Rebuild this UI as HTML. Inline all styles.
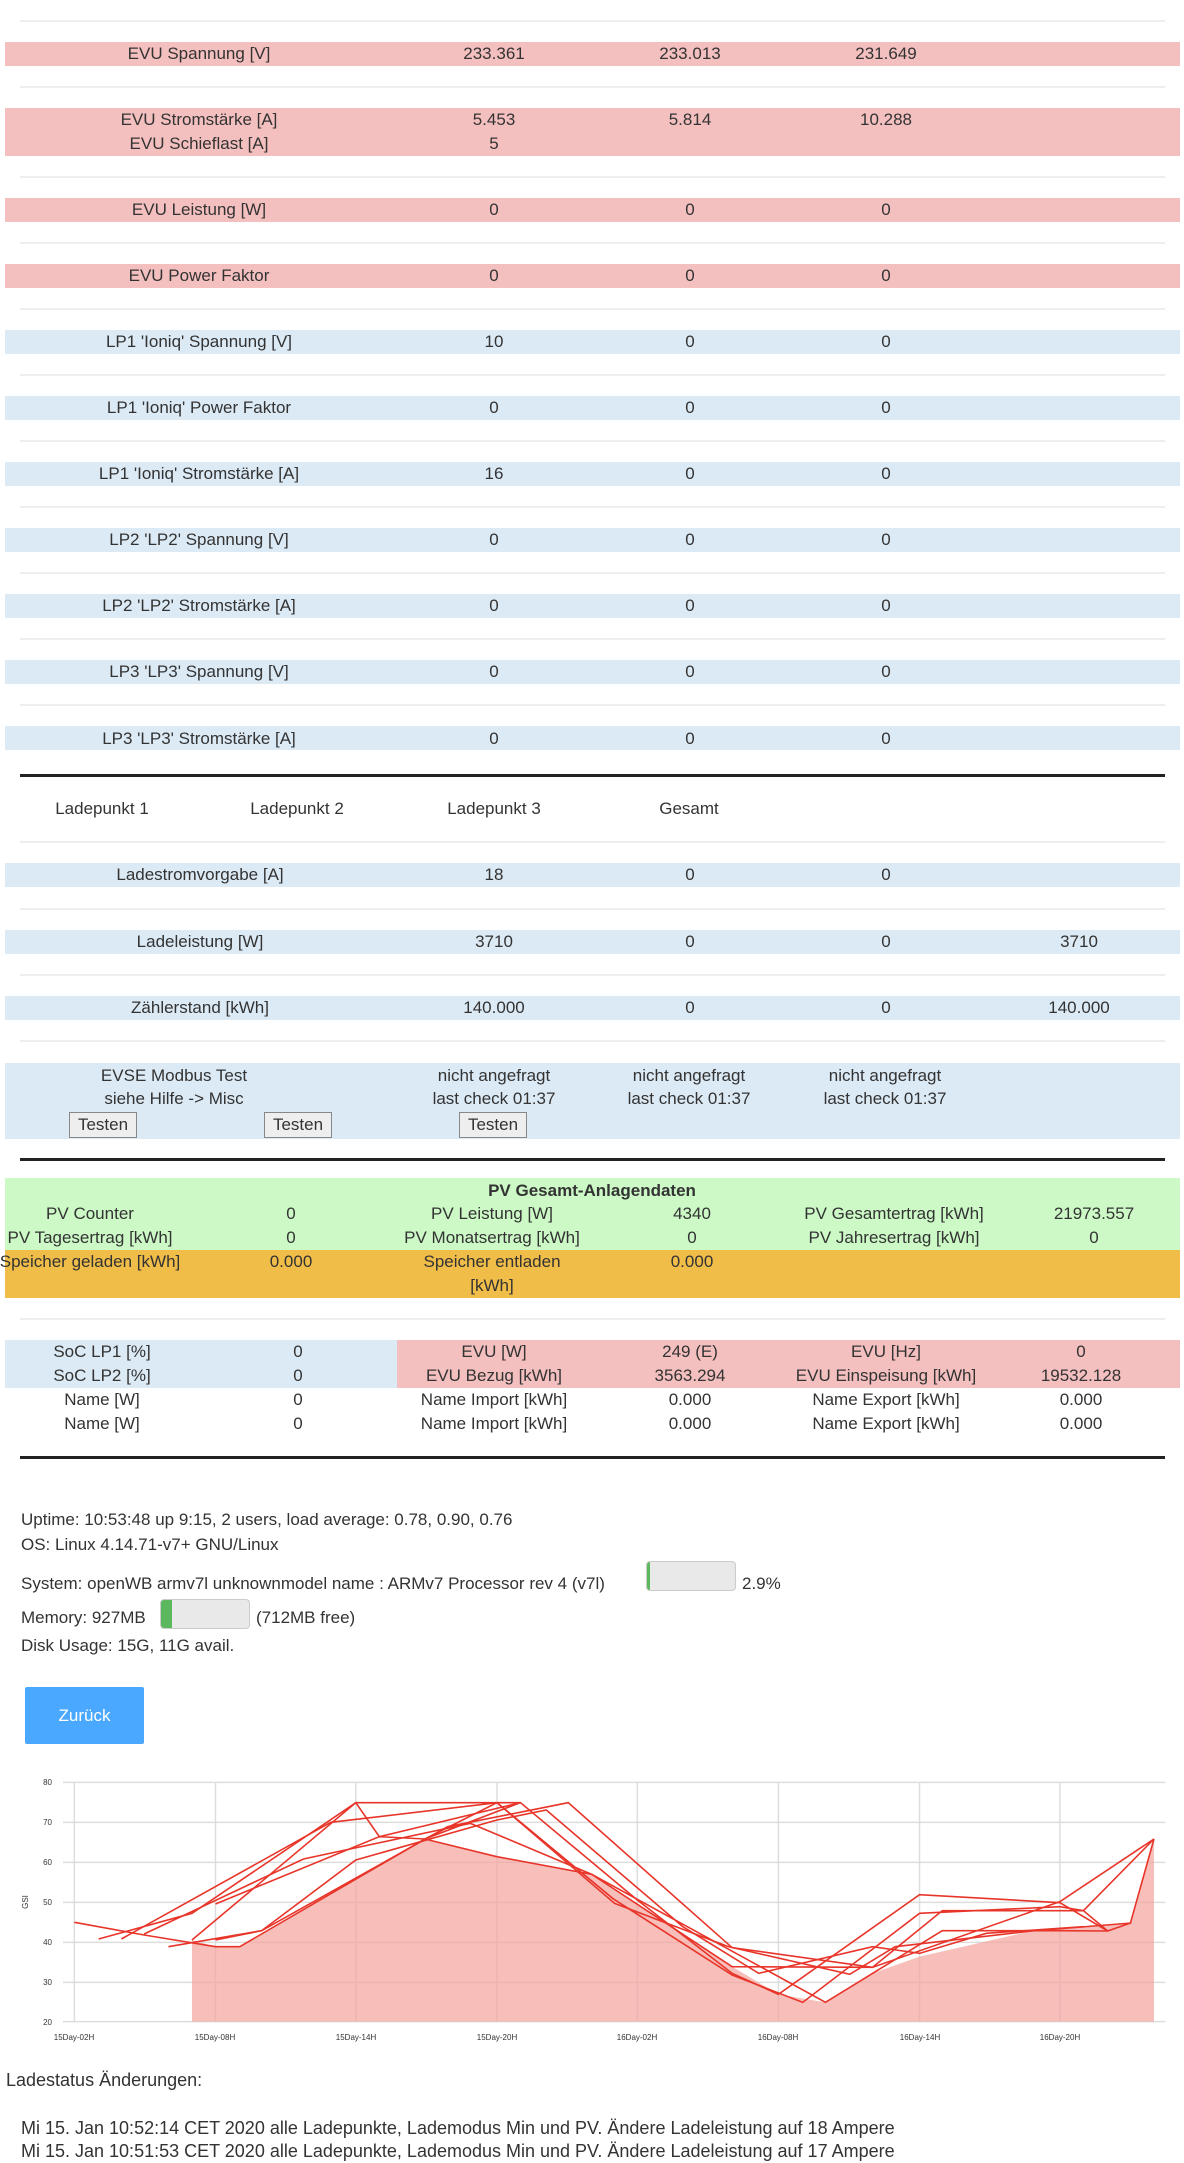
<!DOCTYPE html>
<html><head><meta charset="utf-8"><style>
body{margin:0;width:1184px;height:2160px;position:relative;overflow:hidden;background:#fff;font-family:"Liberation Sans",sans-serif;font-size:17px;color:#333}
.b{position:absolute;left:5px;width:1175px}
.pk{background:#f4c0bf}.bl{background:#dceaf5}.gr{background:#ccf9c6}.or{background:#f0bd48}
.ln{position:absolute;left:20px;width:1145px;height:2px;background:#eee}
.tk{position:absolute;left:20px;width:1145px;height:3px;background:#222}
.t{position:absolute;transform:translate(-50%,-50%);white-space:nowrap;line-height:24px}
.l{position:absolute;white-space:nowrap;line-height:24px;transform:translateY(-50%)}
.btn{position:absolute;border:1px solid #888;background:#eee;font-size:17px;text-align:center;line-height:24px;box-sizing:border-box}
</style></head><body>
<div class="ln" style="top:20px"></div>
<div class="b pk" style="top:42px;height:24px"></div>
<div class="t" style="left:199px;top:54px">EVU Spannung [V]</div><div class="t" style="left:494px;top:54px">233.361</div><div class="t" style="left:690px;top:54px">233.013</div><div class="t" style="left:886px;top:54px">231.649</div>
<div class="ln" style="top:86px"></div>
<div class="b pk" style="top:108px;height:48px"></div>
<div class="t" style="left:199px;top:120px">EVU Stromstärke [A]</div><div class="t" style="left:494px;top:120px">5.453</div><div class="t" style="left:690px;top:120px">5.814</div><div class="t" style="left:886px;top:120px">10.288</div>
<div class="t" style="left:199px;top:144px">EVU Schieflast [A]</div><div class="t" style="left:494px;top:144px">5</div>
<div class="ln" style="top:176px"></div>
<div class="b pk" style="top:198px;height:24px"></div>
<div class="t" style="left:199px;top:210px">EVU Leistung [W]</div><div class="t" style="left:494px;top:210px">0</div><div class="t" style="left:690px;top:210px">0</div><div class="t" style="left:886px;top:210px">0</div>
<div class="ln" style="top:242px"></div>
<div class="b pk" style="top:264px;height:24px"></div>
<div class="t" style="left:199px;top:276px">EVU Power Faktor</div><div class="t" style="left:494px;top:276px">0</div><div class="t" style="left:690px;top:276px">0</div><div class="t" style="left:886px;top:276px">0</div>
<div class="ln" style="top:308px"></div>
<div class="b bl" style="top:330px;height:24px"></div>
<div class="t" style="left:199px;top:342px">LP1 'Ioniq' Spannung [V]</div><div class="t" style="left:494px;top:342px">10</div><div class="t" style="left:690px;top:342px">0</div><div class="t" style="left:886px;top:342px">0</div>
<div class="ln" style="top:374px"></div>
<div class="b bl" style="top:396px;height:24px"></div>
<div class="t" style="left:199px;top:408px">LP1 'Ioniq' Power Faktor</div><div class="t" style="left:494px;top:408px">0</div><div class="t" style="left:690px;top:408px">0</div><div class="t" style="left:886px;top:408px">0</div>
<div class="ln" style="top:440px"></div>
<div class="b bl" style="top:462px;height:24px"></div>
<div class="t" style="left:199px;top:474px">LP1 'Ioniq' Stromstärke [A]</div><div class="t" style="left:494px;top:474px">16</div><div class="t" style="left:690px;top:474px">0</div><div class="t" style="left:886px;top:474px">0</div>
<div class="ln" style="top:506px"></div>
<div class="b bl" style="top:528px;height:24px"></div>
<div class="t" style="left:199px;top:540px">LP2 'LP2' Spannung [V]</div><div class="t" style="left:494px;top:540px">0</div><div class="t" style="left:690px;top:540px">0</div><div class="t" style="left:886px;top:540px">0</div>
<div class="ln" style="top:572px"></div>
<div class="b bl" style="top:594px;height:24px"></div>
<div class="t" style="left:199px;top:606px">LP2 'LP2' Stromstärke [A]</div><div class="t" style="left:494px;top:606px">0</div><div class="t" style="left:690px;top:606px">0</div><div class="t" style="left:886px;top:606px">0</div>
<div class="ln" style="top:638px"></div>
<div class="b bl" style="top:660px;height:24px"></div>
<div class="t" style="left:199px;top:672px">LP3 'LP3' Spannung [V]</div><div class="t" style="left:494px;top:672px">0</div><div class="t" style="left:690px;top:672px">0</div><div class="t" style="left:886px;top:672px">0</div>
<div class="ln" style="top:704px"></div>
<div class="b bl" style="top:726px;height:24px"></div>
<div class="t" style="left:199px;top:739px">LP3 'LP3' Stromstärke [A]</div><div class="t" style="left:494px;top:739px">0</div><div class="t" style="left:690px;top:739px">0</div><div class="t" style="left:886px;top:739px">0</div>
<div class="tk" style="top:774px"></div>
<div class="t" style="left:102px;top:809px">Ladepunkt 1</div><div class="t" style="left:297px;top:809px">Ladepunkt 2</div><div class="t" style="left:494px;top:809px">Ladepunkt 3</div><div class="t" style="left:689px;top:809px">Gesamt</div>
<div class="ln" style="top:841px"></div>
<div class="b bl" style="top:863px;height:24px"></div>
<div class="t" style="left:200px;top:875px">Ladestromvorgabe [A]</div><div class="t" style="left:494px;top:875px">18</div><div class="t" style="left:690px;top:875px">0</div><div class="t" style="left:886px;top:875px">0</div>
<div class="ln" style="top:908px"></div>
<div class="b bl" style="top:930px;height:24px"></div>
<div class="t" style="left:200px;top:942px">Ladeleistung [W]</div><div class="t" style="left:494px;top:942px">3710</div><div class="t" style="left:690px;top:942px">0</div><div class="t" style="left:886px;top:942px">0</div><div class="t" style="left:1079px;top:942px">3710</div>
<div class="ln" style="top:974px"></div>
<div class="b bl" style="top:996px;height:24px"></div>
<div class="t" style="left:200px;top:1008px">Zählerstand [kWh]</div><div class="t" style="left:494px;top:1008px">140.000</div><div class="t" style="left:690px;top:1008px">0</div><div class="t" style="left:886px;top:1008px">0</div><div class="t" style="left:1079px;top:1008px">140.000</div>
<div class="ln" style="top:1040px"></div>
<div class="b bl" style="top:1063px;height:76px"></div>
<div class="t" style="left:174px;top:1076px">EVSE Modbus Test</div><div class="t" style="left:174px;top:1099px">siehe Hilfe -&gt; Misc</div>
<div class="t" style="left:494px;top:1076px">nicht angefragt</div><div class="t" style="left:494px;top:1099px">last check 01:37</div>
<div class="t" style="left:689px;top:1076px">nicht angefragt</div><div class="t" style="left:689px;top:1099px">last check 01:37</div>
<div class="t" style="left:885px;top:1076px">nicht angefragt</div><div class="t" style="left:885px;top:1099px">last check 01:37</div>
<div class="btn" style="left:69px;top:1112px;width:68px;height:26px">Testen</div>
<div class="btn" style="left:264px;top:1112px;width:68px;height:26px">Testen</div>
<div class="btn" style="left:459px;top:1112px;width:68px;height:26px">Testen</div>
<div class="tk" style="top:1158px"></div>
<div class="b gr" style="top:1178px;height:72px"></div>
<div class="b or" style="top:1250px;height:48px"></div>
<div class="t" style="left:592px;top:1191px;font-weight:bold">PV Gesamt-Anlagendaten</div>
<div class="t" style="left:90px;top:1214px">PV Counter</div><div class="t" style="left:291px;top:1214px">0</div><div class="t" style="left:492px;top:1214px">PV Leistung [W]</div><div class="t" style="left:692px;top:1214px">4340</div><div class="t" style="left:894px;top:1214px">PV Gesamtertrag [kWh]</div><div class="t" style="left:1094px;top:1214px">21973.557</div>
<div class="t" style="left:90px;top:1238px">PV Tagesertrag [kWh]</div><div class="t" style="left:291px;top:1238px">0</div><div class="t" style="left:492px;top:1238px">PV Monatsertrag [kWh]</div><div class="t" style="left:692px;top:1238px">0</div><div class="t" style="left:894px;top:1238px">PV Jahresertrag [kWh]</div><div class="t" style="left:1094px;top:1238px">0</div>
<div class="t" style="left:90px;top:1262px">Speicher geladen [kWh]</div><div class="t" style="left:291px;top:1262px">0.000</div><div class="t" style="left:492px;top:1262px">Speicher entladen</div><div class="t" style="left:492px;top:1286px">[kWh]</div><div class="t" style="left:692px;top:1262px">0.000</div>
<div class="ln" style="top:1318px"></div>
<div style="position:absolute;left:5px;top:1340px;width:392px;height:48px;background:#dceaf5"></div>
<div style="position:absolute;left:397px;top:1340px;width:783px;height:48px;background:#f4c0bf"></div>
<div class="t" style="left:102px;top:1352px">SoC LP1 [%]</div><div class="t" style="left:298px;top:1352px">0</div><div class="t" style="left:494px;top:1352px">EVU [W]</div><div class="t" style="left:690px;top:1352px">249 (E)</div><div class="t" style="left:886px;top:1352px">EVU [Hz]</div><div class="t" style="left:1081px;top:1352px">0</div>
<div class="t" style="left:102px;top:1376px">SoC LP2 [%]</div><div class="t" style="left:298px;top:1376px">0</div><div class="t" style="left:494px;top:1376px">EVU Bezug [kWh]</div><div class="t" style="left:690px;top:1376px">3563.294</div><div class="t" style="left:886px;top:1376px">EVU Einspeisung [kWh]</div><div class="t" style="left:1081px;top:1376px">19532.128</div>
<div class="t" style="left:102px;top:1400px">Name [W]</div><div class="t" style="left:298px;top:1400px">0</div><div class="t" style="left:494px;top:1400px">Name Import [kWh]</div><div class="t" style="left:690px;top:1400px">0.000</div><div class="t" style="left:886px;top:1400px">Name Export [kWh]</div><div class="t" style="left:1081px;top:1400px">0.000</div>
<div class="t" style="left:102px;top:1424px">Name [W]</div><div class="t" style="left:298px;top:1424px">0</div><div class="t" style="left:494px;top:1424px">Name Import [kWh]</div><div class="t" style="left:690px;top:1424px">0.000</div><div class="t" style="left:886px;top:1424px">Name Export [kWh]</div><div class="t" style="left:1081px;top:1424px">0.000</div>
<div class="tk" style="top:1456px"></div>
<div class="l" style="left:21px;top:1520px">Uptime: 10:53:48 up 9:15, 2 users, load average: 0.78, 0.90, 0.76</div>
<div class="l" style="left:21px;top:1545px">OS: Linux 4.14.71-v7+ GNU/Linux</div>
<div class="l" style="left:21px;top:1584px">System: openWB armv7l unknownmodel name : ARMv7 Processor rev 4 (v7l)</div>
<div style="position:absolute;left:646px;top:1561px;width:90px;height:30px;background:#e9e9e9;border:1px solid #ccc;border-radius:4px;box-sizing:border-box;overflow:hidden"><div style="width:3px;height:100%;background:#5cb85c"></div></div>
<div class="l" style="left:742px;top:1584px">2.9%</div>
<div class="l" style="left:21px;top:1618px">Memory: 927MB</div>
<div style="position:absolute;left:160px;top:1599px;width:90px;height:30px;background:#e9e9e9;border:1px solid #ccc;border-radius:4px;box-sizing:border-box;overflow:hidden"><div style="width:11px;height:100%;background:#5cb85c"></div></div>
<div class="l" style="left:256px;top:1618px">(712MB free)</div>
<div class="l" style="left:21px;top:1646px">Disk Usage: 15G, 11G avail.</div>
<div style="position:absolute;left:25px;top:1687px;width:119px;height:57px;background:#4aa8ff;color:#fff;text-align:center;line-height:57px;border-radius:2px">Zurück</div>
<svg style="position:absolute;left:0;top:0" width="1184" height="2160">
<g transform="translate(0,1760) scale(0.7587,0.33333)" fill="none">
<g stroke="#ddd" stroke-width="1.5">
<path vector-effect="non-scaling-stroke" d="M83,67H1536M83,187H1536M83,307H1536M83,427H1536M83,547H1536M83,667H1536M83,785H1536"/>
<path vector-effect="non-scaling-stroke" d="M98,67V785M284,67V785M469,67V785M655,67V785M840,67V785M1026,67V785M1212,67V785M1397,67V785"/>
</g>
<polygon fill="#f3a39c" fill-opacity="0.7" points="253,785 253,540 284,560 316,560 560,237 655,290 780,343 965,620 1026,703 1088,727 1150,640 1212,590 1360,513 1491,489 1521,237 1521,785"/>
<g stroke="#e8352a" stroke-width="1.6">
<polyline vector-effect="non-scaling-stroke" points="98,487 190,525 284,560 316,560 560,237 655,128 686,128 840,420 965,640 1026,703 1212,404 1397,428 1460,513 1490,489 1521,237"/>
<polyline vector-effect="non-scaling-stroke" points="130,537 253,460 469,128 655,128 808,416 965,645 1058,727 1212,460 1397,440 1428,452 1521,237"/>
<polyline vector-effect="non-scaling-stroke" points="222,560 345,512 590,200 749,128 965,563 1150,622 1242,452 1428,452 1460,513"/>
<polyline vector-effect="non-scaling-stroke" points="190,522 400,297 620,190 780,343 1088,727 1242,512 1397,512 1460,513"/>
<polyline vector-effect="non-scaling-stroke" points="160,537 436,187 655,128 810,430 960,560 1120,643 1180,560 1360,513 1491,489"/>
<polyline vector-effect="non-scaling-stroke" points="284,432 500,230 560,237 655,290 780,343 965,620 1150,622 1397,425 1521,237"/>
<polyline vector-effect="non-scaling-stroke" points="253,540 469,128 500,230 686,128 560,237"/>
<polyline vector-effect="non-scaling-stroke" points="284,540 345,512 469,300 655,180 720,150 900,500 1000,640 1150,560 1212,580 1300,520 1428,500"/>
</g>
</g>
<g font-family="Liberation Sans" font-size="8" fill="#333" text-anchor="end">
<text x="52" y="1785">80</text><text x="52" y="1825">70</text><text x="52" y="1865">60</text><text x="52" y="1905">50</text><text x="52" y="1945">40</text><text x="52" y="1985">30</text><text x="52" y="2025">20</text>
</g>
<g font-family="Liberation Sans" font-size="8" fill="#333" text-anchor="middle">
<text x="74" y="2040">15Day-02H</text><text x="215" y="2040">15Day-08H</text><text x="356" y="2040">15Day-14H</text><text x="497" y="2040">15Day-20H</text><text x="637" y="2040">16Day-02H</text><text x="778" y="2040">16Day-08H</text><text x="920" y="2040">16Day-14H</text><text x="1060" y="2040">16Day-20H</text>
<text x="0" y="0" transform="translate(28,1902) rotate(-90)">GSI</text>
</g>
</svg>
<div class="l" style="left:6px;top:2080px;font-size:18px">Ladestatus Änderungen:</div>
<div class="l" style="left:21px;top:2128px;font-size:18px">Mi 15. Jan 10:52:14 CET 2020 alle Ladepunkte, Lademodus Min und PV. Ändere Ladeleistung auf 18 Ampere</div>
<div class="l" style="left:21px;top:2151px;font-size:18px">Mi 15. Jan 10:51:53 CET 2020 alle Ladepunkte, Lademodus Min und PV. Ändere Ladeleistung auf 17 Ampere</div>
</body></html>
